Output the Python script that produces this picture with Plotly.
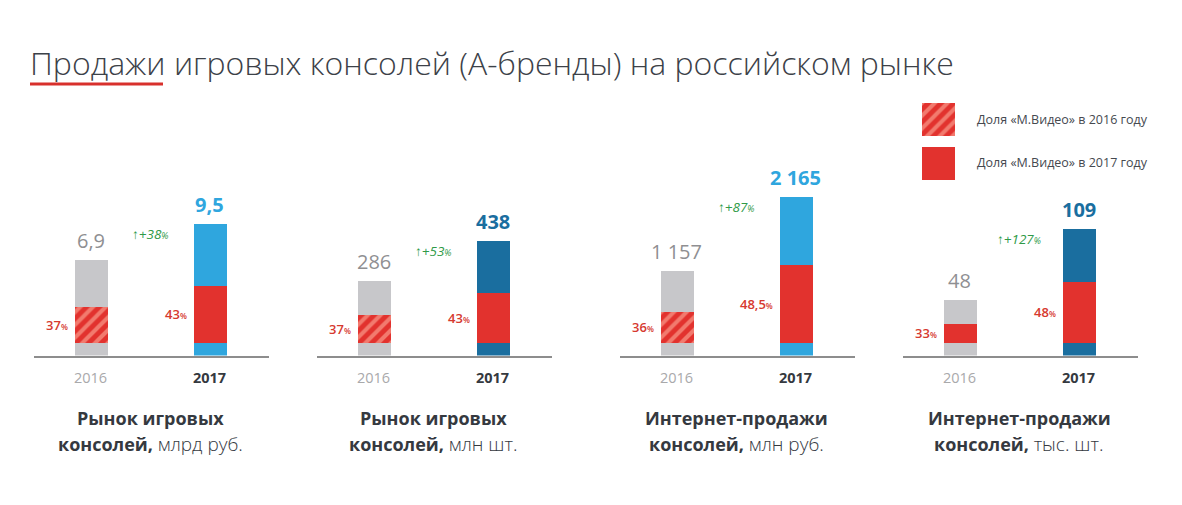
import plotly.graph_objects as go

# ---------------- data ----------------
TITLE = "Продажи игровых консолей (А-бренды) на российском рынке"
YEARS = ["2016", "2017"]
PANEL_TITLE_LINE1 = ["Рынок игровых", "Рынок игровых", "Интернет-продажи", "Интернет-продажи"]
PANEL_TITLE_LINE2 = ["консолей,", "консолей,", "консолей,", "консолей,"]
PANEL_UNITS = ["млрд руб.", "млн шт.", "млн руб.", "тыс. шт."]
TOTAL_2016 = [6.9, 286, 1157, 48]
TOTAL_2017 = [9.5, 438, 2165, 109]
LABEL_2016 = ["6,9", "286", "1 157", "48"]
LABEL_2017 = ["9,5", "438", "2 165", "109"]
SHARE_2016 = [37, 37, 36, 33]
SHARE_2017 = [43, 43, 48.5, 48]
SHARE_2016_LABEL = ["37", "37", "36", "33"]
SHARE_2017_LABEL = ["43", "43", "48,5", "48"]
GROWTH_LABEL = ["+38", "+53", "+87", "+127"]
LEGEND_LABELS = ["Доля «М.Видео» в 2016 году", "Доля «М.Видео» в 2017 году"]

# ---------------- layout / style ----------------
W, H = 1182, 505
FONT = "Open Sans"
BASE_PY = 355.5          # baseline pixel row
TOP_PY = 150.0           # top of plot area
PLOT_PX = BASE_PY - TOP_PY
Y_MAX = [14.8, 787, 2800, 177]      # per-panel axis maxima
C16_PX = [90.5, 373.5, 676.5, 959.5]  # 2016 bar centre (px)
STEP_PX = 119
LEFT_PAD, RIGHT_PAD = 57, 178
BAR_PX = 33
OFFSET_PX = 13
HATCH_2016 = [True, True, True, False]
DARK_BLUE = [False, True, False, True]

GRAY = "#c7c7ca"
RED = "#e2322e"
RED_LIGHT = "#f27a6e"
BLUE_L = "#2fa6de"
BLUE_D = "#1a6e9f"
TXT = "#35393f"
PCT_RED = "#d6392f"
GREEN = "#2f9a47"


def py(p):
    return 1 - p / H


def px(p):
    return p / W


def hatch(shapes_list):
    return dict(shape=shapes_list, fgcolor=RED_LIGHT, bgcolor=RED,
                fgopacity=1, size=9, solidity=0.45, fillmode="replace")


fig = go.Figure()
annotations = []
shapes = []
layout_axes = {}

bw = BAR_PX / STEP_PX
for i in range(4):
    n = "" if i == 0 else str(i + 1)
    xa, ya = "x" + n, "y" + n
    blue = BLUE_D if DARK_BLUE[i] else BLUE_L
    off = OFFSET_PX * Y_MAX[i] / PLOT_PX
    red = [SHARE_2016[i] * TOTAL_2016[i] / 100, SHARE_2017[i] * TOTAL_2017[i] / 100]
    top = [TOTAL_2016[i] - off - red[0], TOTAL_2017[i] - off - red[1]]
    xs = [0, 1]
    fig.add_trace(go.Bar(x=xs, y=[off, off], width=bw, xaxis=xa, yaxis=ya,
                         marker=dict(color=[GRAY, blue], line_width=0),
                         showlegend=False, hoverinfo="skip"))
    fig.add_trace(go.Bar(x=xs, y=red, width=bw, xaxis=xa, yaxis=ya,
                         marker=dict(color=RED, line_width=0,
                                     pattern=hatch(["/" if HATCH_2016[i] else "", ""])),
                         showlegend=False, hoverinfo="skip"))
    fig.add_trace(go.Bar(x=xs, y=top, width=bw, xaxis=xa, yaxis=ya,
                         marker=dict(color=[GRAY, blue], line_width=0),
                         showlegend=False, hoverinfo="skip"))

    x0 = C16_PX[i] - LEFT_PAD
    x1 = C16_PX[i] + RIGHT_PAD
    layout_axes["xaxis" + n] = dict(domain=[px(x0), px(x1)],
                                    range=[-LEFT_PAD / STEP_PX, (x1 - x0 - LEFT_PAD) / STEP_PX],
                                    showgrid=False, zeroline=False, showticklabels=False,
                                    showline=True, linecolor="#8d8d8d", linewidth=2,
                                    anchor=ya, fixedrange=True)
    layout_axes["yaxis" + n] = dict(domain=[py(BASE_PY), py(TOP_PY)], range=[0, Y_MAX[i]],
                                    visible=False, anchor=xa, fixedrange=True)

    # value labels
    annotations.append(dict(xref=xa, yref=ya, x=0, y=TOTAL_2016[i], text=LABEL_2016[i],
                            showarrow=False, yanchor="bottom", yshift=4,
                            font=dict(family=FONT, size=20, color="#8f8f92")))
    annotations.append(dict(xref=xa, yref=ya, x=1, y=TOTAL_2017[i], text="<b>%s</b>" % LABEL_2017[i],
                            showarrow=False, yanchor="bottom", yshift=4,
                            font=dict(family=FONT, size=20, color=blue)))
    # share labels
    annotations.append(dict(xref=xa, yref=ya, x=-bw / 2, y=off + red[0] / 2,
                            text="%s<span style='font-size:8px'>%%</span>" % SHARE_2016_LABEL[i],
                            showarrow=False, xanchor="right", yanchor="middle", xshift=-4,
                            font=dict(family=FONT, size=13, color=PCT_RED, weight=600)))
    annotations.append(dict(xref=xa, yref=ya, x=1 - bw / 2, y=off + red[1] / 2,
                            text="%s<span style='font-size:8px'>%%</span>" % SHARE_2017_LABEL[i],
                            showarrow=False, xanchor="right", yanchor="middle", xshift=-4,
                            font=dict(family=FONT, size=13, color=PCT_RED, weight=600)))
    # growth label
    annotations.append(dict(xref=xa, yref=ya, x=0.5, y=TOTAL_2017[i],
                            text="<b>↑</b><i>%s</i><span style='font-size:9px'><i>%%</i></span>" % GROWTH_LABEL[i],
                            showarrow=False, yanchor="middle", yshift=-10,
                            font=dict(family=FONT, size=13.5, color=GREEN)))
    # year labels
    annotations.append(dict(xref=xa, yref="paper", x=0, y=py(377), text=YEARS[0],
                            showarrow=False, yanchor="middle",
                            font=dict(family=FONT, size=14.5, color="#a9a9ab")))
    annotations.append(dict(xref=xa, yref="paper", x=1, y=py(377), text="<b>%s</b>" % YEARS[1],
                            showarrow=False, yanchor="middle",
                            font=dict(family=FONT, size=14.5, color=TXT)))
    # panel titles
    annotations.append(dict(xref=xa, yref="paper", x=0.5, y=py(418),
                            text="<b>%s</b>" % PANEL_TITLE_LINE1[i], yanchor="middle",
                            showarrow=False, font=dict(family=FONT, size=18, color=TXT)))
    annotations.append(dict(xref=xa, yref="paper", x=0.5, y=py(444),
                            text="<b>%s</b> <span style='font-size:19px'>%s</span>" % (PANEL_TITLE_LINE2[i], PANEL_UNITS[i]),
                            yanchor="middle",
                            showarrow=False, font=dict(family=FONT, size=18, color=TXT, weight=300)))

# legend keys as a small horizontal-bar subplot
fig.add_trace(go.Bar(y=[1, 0], x=[1, 1], orientation="h", width=0.75, xaxis="x5", yaxis="y5",
                     marker=dict(color=RED, line_width=0, pattern=hatch(["/", ""])),
                     showlegend=False, hoverinfo="skip"))
layout_axes["xaxis5"] = dict(domain=[px(922), px(955)], range=[0, 1], visible=False,
                             anchor="y5", fixedrange=True)
layout_axes["yaxis5"] = dict(domain=[py(180), py(103)], range=[-0.375, 1.375], visible=False,
                             anchor="x5", fixedrange=True)
for k, lab in enumerate(LEGEND_LABELS):
    annotations.append(dict(xref="paper", yref="paper", x=px(975), y=py(119 + 43 * k), text=lab,
                            xanchor="left", yanchor="middle", showarrow=False,
                            font=dict(family=FONT, size=12.5, color="#45494f")))

# title + underline
annotations.append(dict(xref="paper", yref="paper", x=px(28), y=py(62), text=TITLE,
                        xanchor="left", yanchor="middle", showarrow=False,
                        font=dict(family=FONT, size=32, color="#3c4148", weight=300)))
shapes.append(dict(type="rect", xref="paper", yref="paper", x0=px(30), x1=px(163),
                   y0=py(85.5), y1=py(82.5), fillcolor="#d8302c", line_width=0))

fig.update_layout(width=W, height=H, autosize=False, margin=dict(l=0, r=0, t=0, b=0),
                  paper_bgcolor="white", plot_bgcolor="rgba(0,0,0,0)", barmode="stack",
                  bargap=0, annotations=annotations, shapes=shapes, showlegend=False,
                  **layout_axes)

fig.write_html("out.html", config={"displayModeBar": False},
               post_script="document.body.style.margin='0';")
